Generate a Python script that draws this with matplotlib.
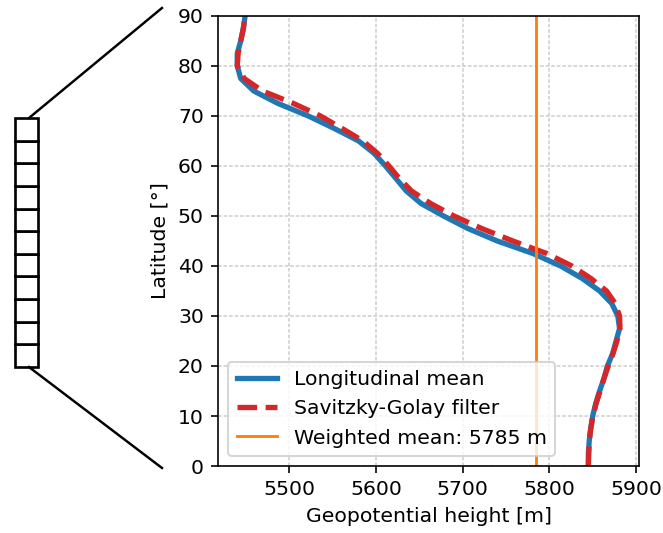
import matplotlib
matplotlib.use("Agg")
import matplotlib.pyplot as plt
from matplotlib.patches import Rectangle
from matplotlib.lines import Line2D

# Latitude grid (degrees north)
latitude = [0, 2.5, 5, 7.5, 10, 12.5, 15, 17.5, 20, 22.5, 25, 27.5, 30, 32.5,
            35, 37.5, 40, 42.5, 45, 47.5, 50, 52.5, 55, 57.5, 60, 62.5, 65,
            67.5, 70, 72.5, 75, 77.5, 80, 82.5, 85, 87.5, 90]

# Zonal (longitudinal) mean of the 500 hPa geopotential height [m]
zonal_mean = [5845, 5845, 5846, 5847.7, 5850, 5853.5, 5858, 5863, 5867, 5873,
              5877, 5881, 5879, 5872, 5858, 5838, 5813, 5781, 5740, 5706,
              5678, 5652, 5635, 5623, 5611, 5598, 5580, 5552, 5522, 5487,
              5459, 5444, 5440, 5440, 5444, 5447, 5449]

# Savitzky-Golay smoothed profile [m]
sg_filtered = [5845, 5845.5, 5846, 5847.8, 5850.3, 5854, 5858.5, 5863, 5868,
               5873.5, 5878, 5881.5, 5881, 5876, 5866, 5848, 5826, 5797, 5758,
               5722, 5690, 5663, 5641, 5627, 5615, 5602, 5585, 5561, 5536,
               5505, 5469, 5448, 5440, 5441, 5444, 5447, 5449]

# Area-weighted mean height [m]
weighted_mean = 5785

n_cells = 11

fig = plt.figure(figsize=(663 / 147, 533 / 147), dpi=147)

# Schematic of the latitude cells on the left
key = fig.add_axes([0, 0, 1, 1])
key.set_xlim(0, 1)
key.set_ylim(0, 1)
key.axis("off")
col_left, col_right = 0.0226, 0.0573
col_bottom, col_top = 0.3114, 0.7786
cell_h = (col_top - col_bottom) / n_cells
for i in range(n_cells):
    key.add_patch(Rectangle((col_left, col_bottom + i * cell_h),
                            col_right - col_left, cell_h,
                            facecolor="white", edgecolor="black", lw=1.3))
key.add_line(Line2D([0.0437, 0.2443], [col_top, 0.985], color="black", lw=1.2))
key.add_line(Line2D([0.0437, 0.2443], [col_bottom, 0.122], color="black", lw=1.2))

# Main profile panel
ax = fig.add_axes([0.329, 0.1257, 0.635, 0.8443])
ax.plot(zonal_mean, latitude, color="#1f77b4", lw=2.6, label="Longitudinal mean")
ax.plot(sg_filtered, latitude, color="#d62728", lw=2.6, ls="--",
        label="Savitzky-Golay filter")
ax.axvline(weighted_mean, color="#ff7f0e", lw=1.4,
           label=f"Weighted mean: {weighted_mean} m")

ax.set_ylim(0, 90)
ax.set_yticks(range(0, 91, 10))
ax.set_xticks([5500, 5600, 5700, 5800, 5900])
ax.grid(True, ls=(0, (2.2, 1.2)), color="#d0d0d0", lw=0.8)
ax.set_axisbelow(True)
ax.set_xlabel("Geopotential height [m]")
ax.set_ylabel("Latitude [°]")
ax.legend(loc="lower left")

fig.savefig("out.png", dpi=147)
